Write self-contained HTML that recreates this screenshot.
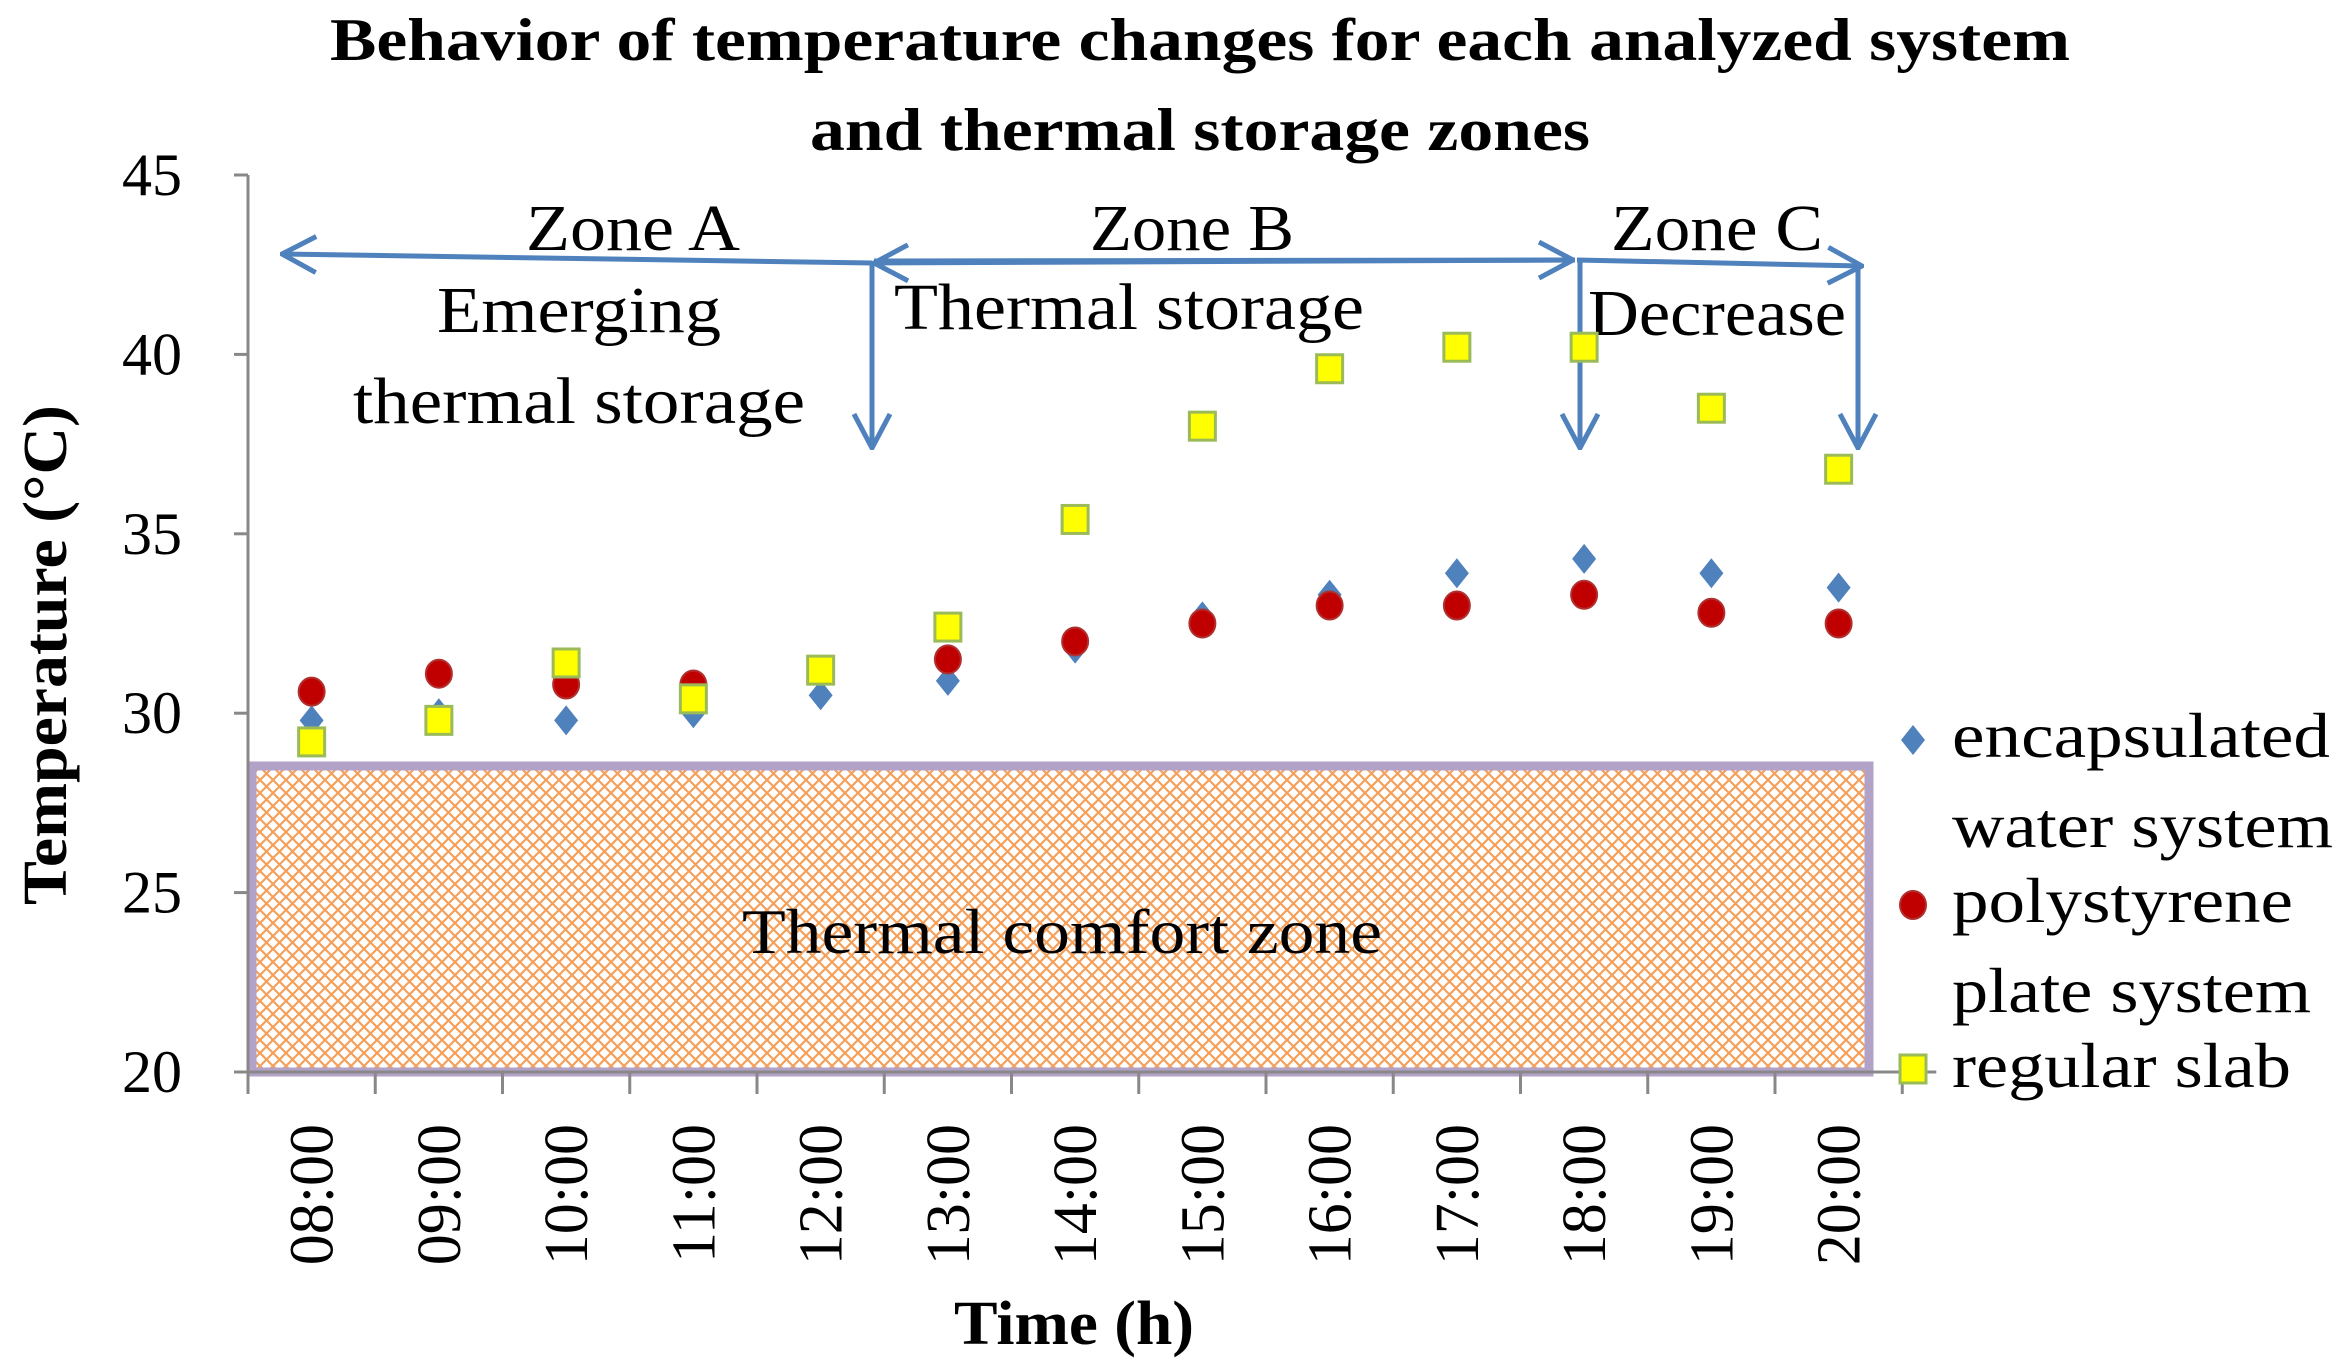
<!DOCTYPE html>
<html><head><meta charset="utf-8"><style>
html,body{margin:0;padding:0;background:#fff;}
svg{display:block;font-family:"Liberation Serif",serif;}
</style></head><body>
<svg id="chart" width="2345" height="1368" viewBox="0 0 2345 1368" xmlns="http://www.w3.org/2000/svg">
<defs>
<pattern id="hatch" width="13" height="13" patternUnits="userSpaceOnUse">
<path d="M0 0L13 13M13 0L0 13" stroke="#f5a05a" stroke-width="2.2"/>
</pattern>
<marker id="ah" viewBox="0 0 40 40" refX="38" refY="20" markerWidth="40" markerHeight="40" markerUnits="userSpaceOnUse" orient="auto">
<path d="M4 2L38 20L4 38" fill="none" stroke="#4f81bd" stroke-width="5"/>
</marker>
</defs>
<g font-weight="bold" font-size="60" text-anchor="middle">
<text x="1200" y="60" textLength="1740" lengthAdjust="spacingAndGlyphs">Behavior of temperature changes for each analyzed system</text>
<text x="1200" y="150" textLength="780" lengthAdjust="spacingAndGlyphs">and thermal storage zones</text>
</g>
<rect x="252" y="766" width="1617" height="306" fill="url(#hatch)" stroke="#b3a2c7" stroke-width="9"/>
<text x="1062" y="953" font-size="64" text-anchor="middle" textLength="640" lengthAdjust="spacingAndGlyphs">Thermal comfort zone</text>
<g id="axes"></g>
<g id="zones" stroke="#4f81bd" stroke-width="5" fill="none">
<line x1="872" y1="263" x2="282" y2="254" marker-end="url(#ah)"/>
<line x1="1575" y1="260" x2="874" y2="263" marker-end="url(#ah)"/>
<line x1="874" y1="261" x2="1573" y2="260" marker-end="url(#ah)"/>
<line x1="1577" y1="260" x2="1862" y2="266" marker-end="url(#ah)"/>
<line x1="872" y1="263" x2="872" y2="448" marker-end="url(#ah)"/>
<line x1="1580" y1="260" x2="1580" y2="448" marker-end="url(#ah)"/>
<line x1="1858" y1="266" x2="1858" y2="448" marker-end="url(#ah)"/>
</g>
<g font-size="66" text-anchor="middle">
<text x="633" y="250" textLength="214" lengthAdjust="spacingAndGlyphs">Zone A</text>
<text x="1192" y="250" textLength="204" lengthAdjust="spacingAndGlyphs">Zone B</text>
<text x="1717" y="250" textLength="212" lengthAdjust="spacingAndGlyphs">Zone C</text>
<text x="579" y="332" textLength="284" lengthAdjust="spacingAndGlyphs">Emerging</text>
<text x="579" y="423" textLength="452" lengthAdjust="spacingAndGlyphs">thermal storage</text>
<text x="1129" y="329" textLength="470" lengthAdjust="spacingAndGlyphs">Thermal storage</text>
<text x="1717" y="335" textLength="258" lengthAdjust="spacingAndGlyphs">Decrease</text>
</g>
<g id="series"></g>
<g font-size="64">
<path d="M1913 725L1925 740L1913 755L1901 740Z" fill="#4f81bd"/>
<text x="1952" y="757" textLength="378" lengthAdjust="spacingAndGlyphs">encapsulated</text>
<text x="1952" y="847" textLength="381" lengthAdjust="spacingAndGlyphs">water system</text>
<ellipse cx="1913" cy="905" rx="13" ry="14" fill="#c00000" stroke="#b03030" stroke-width="2"/>
<text x="1952" y="922" textLength="341" lengthAdjust="spacingAndGlyphs">polystyrene</text>
<text x="1952" y="1012" textLength="359" lengthAdjust="spacingAndGlyphs">plate system</text>
<rect x="1900" y="1055" width="26" height="28" fill="#ffff00" stroke="#9bbb59" stroke-width="3"/>
<text x="1952" y="1087" textLength="339" lengthAdjust="spacingAndGlyphs">regular slab</text>
</g>
<text x="1074" y="1344" font-size="62" font-weight="bold" text-anchor="middle" textLength="240" lengthAdjust="spacingAndGlyphs">Time (h)</text>
<text transform="translate(66,655) rotate(-90)" font-size="62" font-weight="bold" text-anchor="middle" textLength="500" lengthAdjust="spacingAndGlyphs">Temperature (°C)</text>
</svg>
<script>
const categories=["08:00","09:00","10:00","11:00","12:00","13:00","14:00","15:00","16:00","17:00","18:00","19:00","20:00"];
const encapsulated=[29.8,30.0,29.8,30.0,30.5,30.9,31.8,32.7,33.3,33.9,34.3,33.9,33.5];
const polystyrene=[30.6,31.1,30.8,30.8,31.2,31.5,32.0,32.5,33.0,33.0,33.3,32.8,32.5];
const regularSlab=[29.2,29.8,31.4,30.4,31.2,32.4,35.4,38.0,39.6,40.2,40.2,38.5,36.8];
const yTicks=[20,25,30,35,40,45];
const NS="http://www.w3.org/2000/svg";
const x0=248, step=127.25, yTop=175, yBot=1072, yMin=20, yMax=45;
function xPos(i){return x0+step*(i+0.5);}
function yPos(v){return yBot-(v-yMin)/(yMax-yMin)*(yBot-yTop);}
function mk(tag,attrs,parent){const e=document.createElementNS(NS,tag);for(const k in attrs)e.setAttribute(k,attrs[k]);parent.appendChild(e);return e;}
const axes=document.getElementById('axes');
let a=mk('line',{x1:x0,y1:yTop,x2:x0,y2:yBot,stroke:'#888','stroke-width':3},axes);


a=mk('line',{x1:x0,y1:yBot,x2:x0+step*categories.length+34,y2:yBot,stroke:'#888','stroke-width':3},axes);


yTicks.forEach(v=>{
  const y=yPos(v);
  mk('line',{x1:x0-14,y1:y,x2:x0,y2:y,stroke:'#888','stroke-width':3},axes);
  const t=mk('text',{x:182,y:y+20,'font-size':60,'text-anchor':'end'},axes);
  t.textContent=v;
  
  
});
for(let i=0;i<=categories.length;i++){
  const x=x0+step*i;
  mk('line',{x1:x,y1:yBot,x2:x,y2:yBot+22,stroke:'#888','stroke-width':3},axes);
}
categories.forEach((c,i)=>{
  const t=mk('text',{transform:`translate(${xPos(i)+21},1124) rotate(-90)`,'font-size':62,'text-anchor':'end'},axes);
  t.textContent=c;
  
  
});
const series=document.getElementById('series');
encapsulated.forEach((v,i)=>{
  const x=xPos(i),y=yPos(v);
  const p=mk('path',{d:`M${x} ${y-15}L${x+12} ${y}L${x} ${y+15}L${x-12} ${y}Z`,fill:'#4f81bd'},series);
  
  
});
polystyrene.forEach((v,i)=>{
  const c=mk('ellipse',{cx:xPos(i),cy:yPos(v),rx:13,ry:14,fill:'#c00000',stroke:'#b03030','stroke-width':2},series);
  
  
});
regularSlab.forEach((v,i)=>{
  const r=mk('rect',{x:xPos(i)-13,y:yPos(v)-14,width:26,height:28,fill:'#ffff00',stroke:'#9bbb59','stroke-width':3},series);
  
  
});
</script>
</body></html>
